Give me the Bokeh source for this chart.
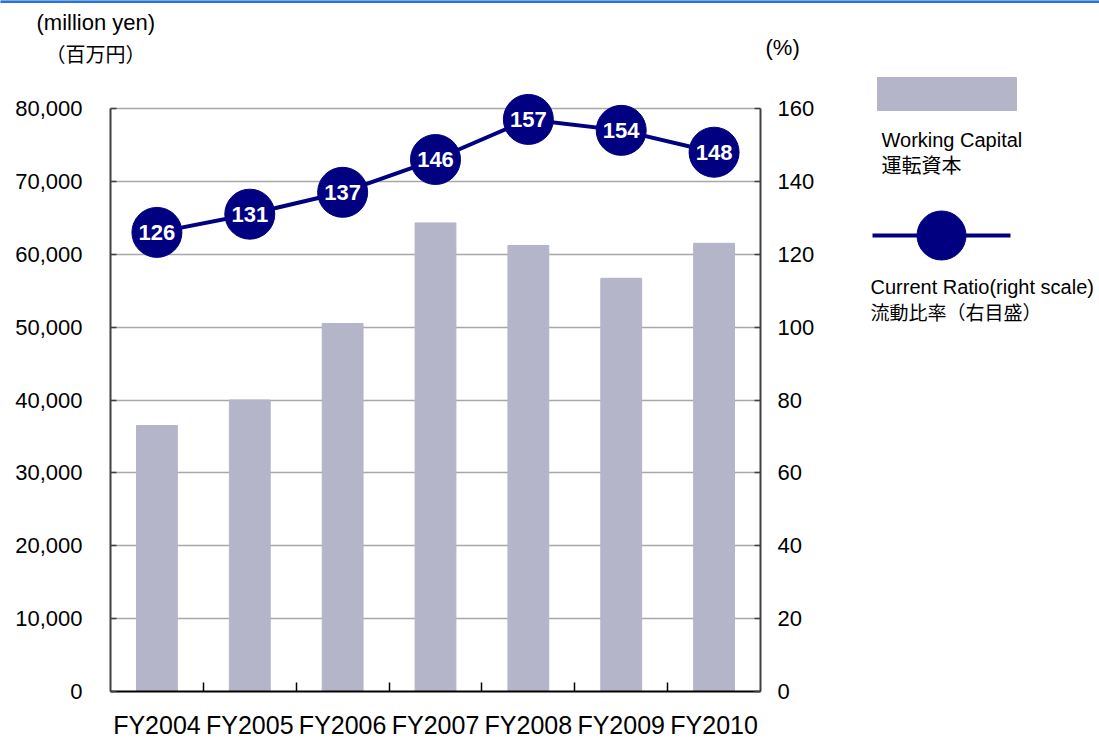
from bokeh.plotting import figure
from bokeh.models import (Range1d, LinearAxis, FixedTicker, NumeralTickFormatter,
                          ColumnDataSource)
from bokeh.layouts import row, column
from bokeh.core.properties import value
from bokeh.embed import file_html
from bokeh.resources import INLINE

# ---- data ----
years = ["FY2004", "FY2005", "FY2006", "FY2007", "FY2008", "FY2009", "FY2010"]
working_capital = [36500, 40000, 50500, 64300, 61200, 56700, 61500]
current_ratio = [126, 131, 137, 146, 157, 154, 148]
left_ticks = [0, 10000, 20000, 30000, 40000, 50000, 60000, 70000, 80000]
right_ticks = [0, 20, 40, 60, 80, 100, 120, 140, 160]

FONT = "Liberation Sans"
CJK = "Noto Sans CJK JP"
BAR = "#b4b5c9"
NAVY = "#000080"

# ---- layout in page pixels ----
W, H = 1099, 741
HDR_H = 68                 # header strip height
P_W = 860                  # main plot width
F_L, F_R, F_T, F_B = 110, 760, 70, 691   # plot frame edges (page px)
AX_TOP = 108               # page y of 80,000 / 160
scale_px = (F_B - F_T) / (F_B - AX_TOP)
BODY_H = H - HDR_H

# ---- header strip ----
hdr = figure(width=W, height=HDR_H, output_backend="svg", toolbar_location=None,
             x_range=Range1d(0, W), y_range=Range1d(HDR_H, 0),
             min_border=0, outline_line_color=None)
hdr.axis.visible = False
hdr.grid.visible = False
hdr.quad(left=[0], right=[W], top=[0], bottom=[2], color="#2a74d6")
hdr.text(x=[36, 765], y=[22, 47], text=["(million yen)", "(%)"],
         text_font=value(FONT), text_font_size="22px", text_baseline="middle",
         text_color="black")
hdr.text(x=[45], y=[53], text=["（百万円）"], text_font=value(CJK),
         text_font_size="20px", text_baseline="middle", text_color="black")

# ---- main plot ----
xs = list(range(len(years)))
src = ColumnDataSource(dict(x=xs, wc=working_capital, cr=current_ratio,
                            lbl=[str(v) for v in current_ratio]))

p = figure(width=P_W, height=BODY_H, output_backend="svg", toolbar_location=None,
           x_range=Range1d(-0.5, len(years) - 0.5),
           y_range=Range1d(0, left_ticks[-1] * scale_px),
           min_border_left=F_L, min_border_right=P_W - F_R,
           min_border_top=F_T - HDR_H, min_border_bottom=H - F_B,
           outline_line_color=None)
p.extra_y_ranges = {"right": Range1d(0, right_ticks[-1] * scale_px)}

p.vbar(x="x", top="wc", width=0.44, source=src, color=BAR)
p.line(x="x", y="cr", source=src, y_range_name="right", line_color=NAVY, line_width=4)
p.scatter(x="x", y="cr", source=src, y_range_name="right", size=50,
          fill_color=NAVY, line_color=NAVY)
p.text(x="x", y="cr", text="lbl", source=src, y_range_name="right",
       text_color="white", text_font=value(FONT), text_font_style="bold",
       text_font_size="22px", text_align="center", text_baseline="middle")

# x axis
xa = p.xaxis[0]
xa.ticker = FixedTicker(ticks=xs, minor_ticks=[i + 0.5 for i in xs[:-1]])
xa.major_label_overrides = {i: y for i, y in enumerate(years)}
xa.major_tick_in = 0
xa.major_tick_out = 0
xa.minor_tick_in = 9
xa.minor_tick_out = 0
xa.minor_tick_line_color = "black"
xa.minor_tick_line_width = 1.5
xa.axis_line_color = "black"
xa.axis_line_width = 2
xa.major_label_text_font = FONT
xa.major_label_text_font_size = "25px"
xa.major_label_text_color = "black"
xa.major_label_standoff = 19

# left axis
ya = p.yaxis[0]
ya.ticker = FixedTicker(ticks=left_ticks)
ya.bounds = (0, left_ticks[-1])
ya.formatter = NumeralTickFormatter(format="0,0")
ya.major_tick_in = 6
ya.major_tick_out = 0
ya.minor_tick_line_color = None
ya.axis_line_color = "#404040"
ya.axis_line_width = 2
ya.major_tick_line_color = "#404040"
ya.major_tick_line_width = 1.5
ya.major_label_text_font = FONT
ya.major_label_text_font_size = "22px"
ya.major_label_text_color = "black"
ya.major_label_standoff = 28

# right axis
ra = LinearAxis(y_range_name="right", ticker=FixedTicker(ticks=right_ticks),
                bounds=(0, right_ticks[-1]))
ra.major_tick_in = 6
ra.major_tick_out = 0
ra.minor_tick_line_color = None
ra.axis_line_color = "#404040"
ra.axis_line_width = 2
ra.major_tick_line_color = "#404040"
ra.major_tick_line_width = 1.5
ra.major_label_text_font = FONT
ra.major_label_text_font_size = "22px"
ra.major_label_text_color = "black"
ra.major_label_standoff = 17
p.add_layout(ra, "right")

p.xgrid.grid_line_color = None
p.ygrid.ticker = FixedTicker(ticks=left_ticks)
p.ygrid.grid_line_color = "#a8a8a8"
p.ygrid.grid_line_width = 1.5

# ---- legend panel (coordinates = page pixels) ----
lg = figure(width=W - P_W, height=BODY_H, output_backend="svg", toolbar_location=None,
            x_range=Range1d(P_W, W), y_range=Range1d(F_B, F_T),
            min_border_left=0, min_border_right=0, min_border_top=F_T - HDR_H,
            min_border_bottom=H - F_B, outline_line_color=None)
lg.axis.visible = False
lg.grid.visible = False
lg.quad(left=[877], right=[1016], top=[77], bottom=[110], color=BAR)
lg.line(x=[872, 1010], y=[235, 235], line_color=NAVY, line_width=4)
lg.scatter(x=[941], y=[235], size=49, fill_color=NAVY, line_color=NAVY)
lg.text(x=[881, 870], y=[139, 286], text=["Working Capital", "Current Ratio(right scale)"],
        text_font=value(FONT), text_font_size="20px",
        text_baseline="middle", text_color="black")
lg.text(x=[881], y=[164], text=["運転資本"], text_font=value(CJK),
        text_font_size="20px", text_baseline="middle", text_color="black")
lg.text(x=[870], y=[311], text=["流動比率（右目盛）"], text_font=value(CJK),
        text_font_size="19px", text_baseline="middle", text_color="black")

layout = column(hdr, row(p, lg))
open("out.html", "w").write(file_html(layout, INLINE))
